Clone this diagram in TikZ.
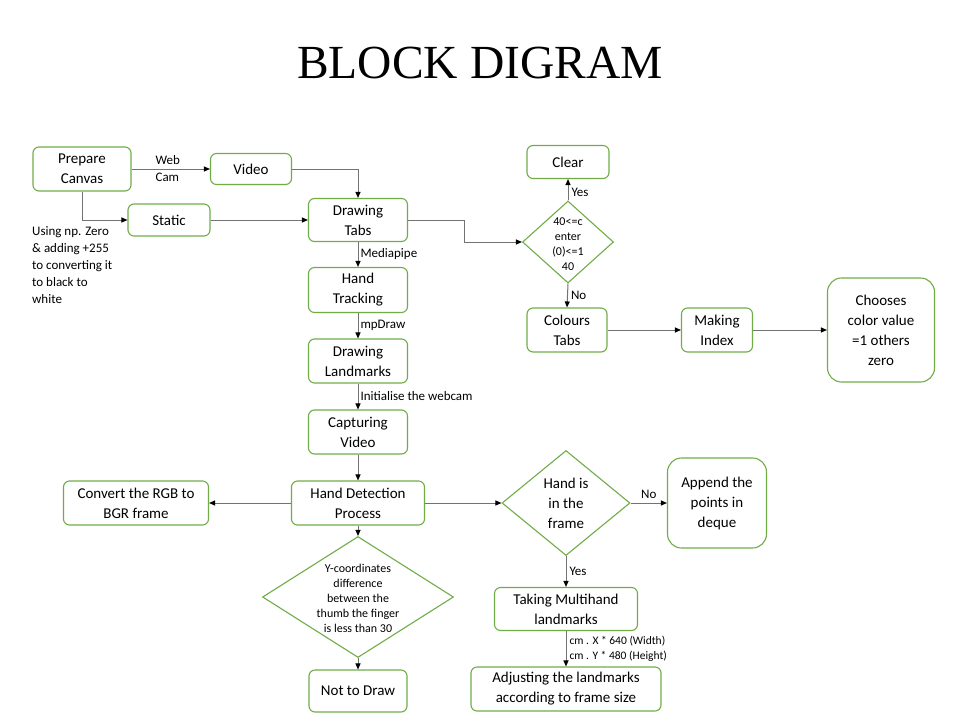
\documentclass[tikz,border=0pt]{standalone}
\usepackage{fontspec}
\setmainfont{Carlito}
\newfontfamily\titlefont{Liberation Serif}
\usetikzlibrary{shapes.geometric,arrows.meta}
\definecolor{boxgreen}{RGB}{112,173,71}
\definecolor{linegray}{RGB}{115,115,115}
\tikzset{
  box/.style={draw=boxgreen, line width=1.1pt, rounded corners=6pt, fill=white, align=center,
    font=\fontsize{15}{20}\selectfont, inner sep=1pt, text=black},
  bigbox/.style={box, rounded corners=14pt},
  dia/.style={draw=boxgreen, line width=1.1pt, shape=diamond, inner sep=0pt, fill=white},
  diatext/.style={align=center, inner sep=0pt},
  arr/.style={draw=linegray, line width=1pt, -{Triangle[length=6pt,width=5pt,color=black]}},
  lbl/.style={font=\fontsize{13}{17}\selectfont, inner sep=0pt, align=left, text=black},
  smalllbl/.style={font=\fontsize{11.5}{15}\selectfont, inner sep=0pt, align=left, text=black}
}
\begin{document}
\begin{tikzpicture}[x=1pt,y=-1pt]
\useasboundingbox (0,0) rectangle (960,720);
\fill[white] (0,0) rectangle (960,720);

\node[font=\titlefont\fontsize{47.5}{52}\selectfont, inner sep=0pt] (title) at (480,63) {BLOCK DIGRAM};

% boxes
\node[box, minimum width=98, minimum height=44] (pc) at (82,169) {Prepare\\Canvas};
\node[box, minimum width=81, minimum height=31] (vid) at (251,169) {Video};
\node[box, minimum width=82, minimum height=32] (st) at (169,220) {Static};
\node[box, minimum width=99, minimum height=43] (dt) at (358,220) {Drawing\\Tabs};
\node[box, minimum width=99, minimum height=45] (ht) at (358,290) {Hand\\Tracking};
\node[box, minimum width=99, minimum height=44] (dl) at (358,361) {Drawing\\Landmarks};
\node[box, minimum width=99, minimum height=44] (cap) at (358,432) {Capturing\\Video};
\node[box, minimum width=133, minimum height=44] (hd) at (358,503) {Hand Detection\\Process};
\node[box, minimum width=145, minimum height=44] (cv) at (136,503) {Convert the RGB to\\BGR frame};
\node[box, minimum width=98, minimum height=42] (ntd) at (358,691) {Not to Draw};
\node[bigbox, minimum width=99, minimum height=90] (app) at (717,503) {Append the\\points in\\deque};
\node[box, minimum width=143, minimum height=43] (tm) at (566,609) {Taking Multihand\\landmarks};
\node[box, minimum width=190, minimum height=44] (adj) at (566,689) {Adjusting the landmarks\\according to frame size};
\node[box, minimum width=82, minimum height=33] (clr) at (568,162) {Clear};
\node[box, minimum width=80, minimum height=44] (ct) at (567,330) {Colours\\Tabs};
\node[box, minimum width=71, minimum height=44] (mi) at (717,330) {Making\\Index};
\node[bigbox, minimum width=107, minimum height=104] (ch) at (881,330) {Chooses\\color value\\=1 others\\zero};

% diamonds
\node[dia, minimum width=91, minimum height=82] (d1) at (568,242) {};
\node[diatext, font=\fontsize{12}{15}\selectfont] (d1t) at (568,244) {40<=c\\enter\\(0)<=1\\40};
\node[dia, minimum width=128, minimum height=105] (d2) at (566,503) {};
\node[diatext, font=\fontsize{15}{20}\selectfont] (d2t) at (566,503) {Hand is\\in the\\frame};
\node[dia, minimum width=191, minimum height=121] (yc) at (358,597) {};
\node[diatext, font=\fontsize{12}{15}\selectfont] (yct) at (358,598) {Y-coordinates\\difference\\between the\\thumb the finger\\is less than 30};

% free note
\node[lbl, anchor=north west] (note) at (32,226) {Using np. Zero\\\& adding +255\\to converting it\\to black to\\white};

% connectors
\draw[arr] (pc.east) -- (vid.west) node[lbl, pos=0.3, anchor=west] (webcam) {Web\\Cam};
\draw[arr] (pc.south) |- (st.west);
\draw[arr] (vid.east) -| (dt.north);
\draw[arr] (st.east) -- (dt.west);
\draw[arr] (dt.east) -- ++(56,0) |- (d1.west);
\draw[arr] (d1.north) -- (clr.south) node[lbl, midway, anchor=west, xshift=3pt, yshift=-3pt] (yes1) {Yes};
\draw[arr] (d1.south) -- (ct.north) node[lbl, midway, anchor=west, xshift=3pt] (no1) {No};
\draw[arr] (ct.east) -- (mi.west);
\draw[arr] (mi.east) -- (ch.west);
\draw[arr] (dt.south) -- (ht.north) node[lbl, midway, anchor=west, xshift=2pt] (mp) {Mediapipe};
\draw[arr] (ht.south) -- (dl.north) node[lbl, midway, anchor=west, xshift=2pt] (mpd) {mpDraw};
\draw[arr] (dl.south) -- (cap.north) node[lbl, midway, anchor=west, xshift=2pt] (init) {Initialise the webcam};
\draw[arr] (cap.south) -- (hd.north);
\draw[arr] (hd.west) -- (cv.east);
\draw[arr] (hd.east) -- (d2.west);
\draw[arr] (hd.south) -- (yc.north);
\draw[arr] (yc.south) -- (ntd.north);
\draw[arr] (d2.east) -- (app.west) node[lbl, midway, above, yshift=4pt] (no2) {No};
\draw[arr] (d2.south) -- (tm.north) node[lbl, midway, anchor=west, xshift=3pt] (yes2) {Yes};
\draw[arr] (tm.south) -- (adj.north) node[smalllbl, midway, anchor=west, xshift=3pt] (cmlbl) {cm . X * 640 (Width)\\cm . Y * 480 (Height)};
\end{tikzpicture}
\end{document}
